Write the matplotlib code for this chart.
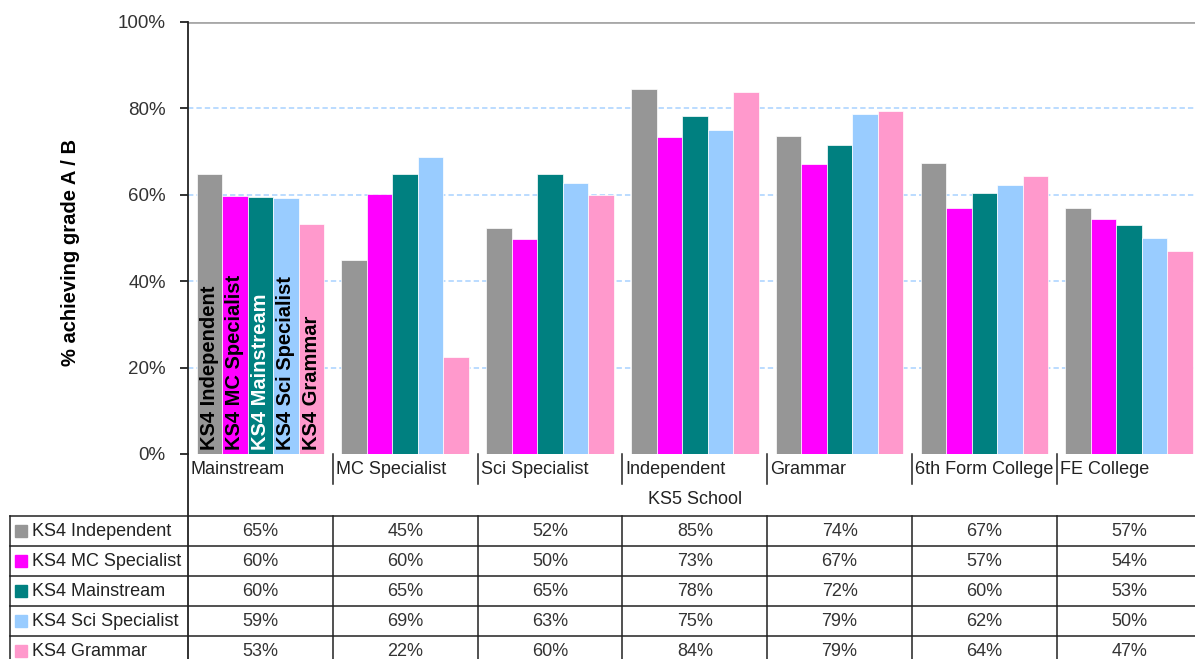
import matplotlib
matplotlib.use("Agg")
import matplotlib.pyplot as plt
import numpy as np

plt.rcParams['font.family'] = ['Liberation Sans', 'DejaVu Sans']

categories = ["Mainstream", "MC Specialist", "Sci Specialist", "Independent",
              "Grammar", "6th Form College", "FE College"]
series = ["KS4 Independent", "KS4 MC Specialist", "KS4 Mainstream",
          "KS4 Sci Specialist", "KS4 Grammar"]
ks4_independent = [64.7, 44.9, 52.4, 84.6, 73.6, 67.4, 56.9]
ks4_mc_specialist = [59.8, 60.1, 49.8, 73.4, 67.1, 56.9, 54.4]
ks4_mainstream = [59.6, 64.7, 64.9, 78.3, 71.6, 60.4, 53.1]
ks4_sci_specialist = [59.3, 68.8, 62.8, 74.9, 78.6, 62.3, 50.0]
ks4_grammar = [53.3, 22.4, 60.0, 83.7, 79.4, 64.4, 47.0]
values = [ks4_independent, ks4_mc_specialist, ks4_mainstream,
          ks4_sci_specialist, ks4_grammar]
colors = ["#969696", "#FF00FF", "#008080", "#99CCFF", "#FF99CC"]
label_colors = ["black", "black", "white", "black", "black"]

W, H = 1195, 659
fig = plt.figure(figsize=(W / 100, H / 100), dpi=100)

# plot area in pixels
x0, x1 = 188, 1201.6
y_top, y_bot = 22, 454
cat_w = (x1 - x0) / 7
ax = fig.add_axes([x0 / W, (H - y_bot) / H, (x1 - x0) / W, (y_bot - y_top) / H])

bw = 0.176
x = np.arange(len(categories))
for i, (vals, c) in enumerate(zip(values, colors)):
    ax.bar(x + (i - 2) * bw, vals, width=bw, color=c,
           edgecolor="white", linewidth=0.5, zorder=3)
    ax.text(x[0] + (i - 2) * bw, 1.0, series[i], rotation=90, ha="center",
            va="bottom", fontsize=14.5, fontweight="bold", color=label_colors[i],
            zorder=4)

ax.set_xlim(-0.5, 6.5)
ax.set_ylim(0, 100)
ax.set_yticks(np.arange(0, 101, 20))
ax.set_yticklabels([f"{v}%" for v in range(0, 101, 20)], fontsize=13.5, color="#333333")
ax.set_xticks([])
for v in [20, 40, 60, 80]:
    ax.axhline(v, color="#A8D2FF", linestyle=(0, (3.5, 2)), linewidth=1.1, zorder=1)
ax.axhline(100, color="#A8A8A8", linewidth=2, zorder=1)
for s in ["top", "right", "bottom"]:
    ax.spines[s].set_visible(False)
ax.spines["left"].set_color("#222222")
ax.spines["left"].set_linewidth(1.3)
ax.tick_params(axis="y", length=6, width=1.3, color="#222222", pad=10)
ax.set_ylabel("% achieving grade A / B", fontsize=14.5, fontweight="bold")
ax.yaxis.set_label_coords(-(x0 - 80) / (x1 - x0), (y_bot - 252) / (y_bot - y_top))

# data table below the chart, y in image pixels
tb = fig.add_axes([x0 / W, 0, (x1 - x0) / W, (H - y_bot) / H])
tb.set_xlim(-0.5, 6.5)
tb.set_ylim(H, y_bot)
tb.axis("off")


def px(xp):
    return -0.5 + (xp - x0) / cat_w


lc = "#222222"
lw = 1.1
x_left = px(10)
row_top = [516, 546, 576, 606, 636, 666]
tb.plot([-0.5, -0.5], [y_bot, H], color=lc, lw=1.3, clip_on=False)
for k in range(1, 8):
    b = k - 0.5
    tb.plot([b, b], [y_bot, 484], color=lc, lw=lw, clip_on=False)
    tb.plot([b, b], [516, H], color=lc, lw=lw, clip_on=False)
tb.plot([x_left, x_left], [516, H], color=lc, lw=lw, clip_on=False)
for yr in row_top[:-1]:
    tb.plot([x_left, 6.5], [yr, yr], color=lc, lw=lw, clip_on=False)

for k, cat in enumerate(categories):
    tb.text(k - 0.5 + 3 / cat_w, 469, cat, ha="left", va="center",
            fontsize=13, color="#222222")
tb.text(3, 500, "KS5 School", ha="center", va="center", fontsize=13, color="#222222")

for i, (name, vals, c) in enumerate(zip(series, values, colors)):
    yc = (row_top[i] + row_top[i + 1]) / 2
    tb.plot([px(21)], [yc], marker="s", markersize=8, color=c, clip_on=False)
    tb.text(px(32), yc, name, ha="left", va="center", fontsize=13, color="#222222")
    for k, v in enumerate(vals):
        tb.text(k, yc, f"{round(v)}%", ha="center", va="center",
                fontsize=13, color="#333333")

fig.savefig("out.png", dpi=100)
